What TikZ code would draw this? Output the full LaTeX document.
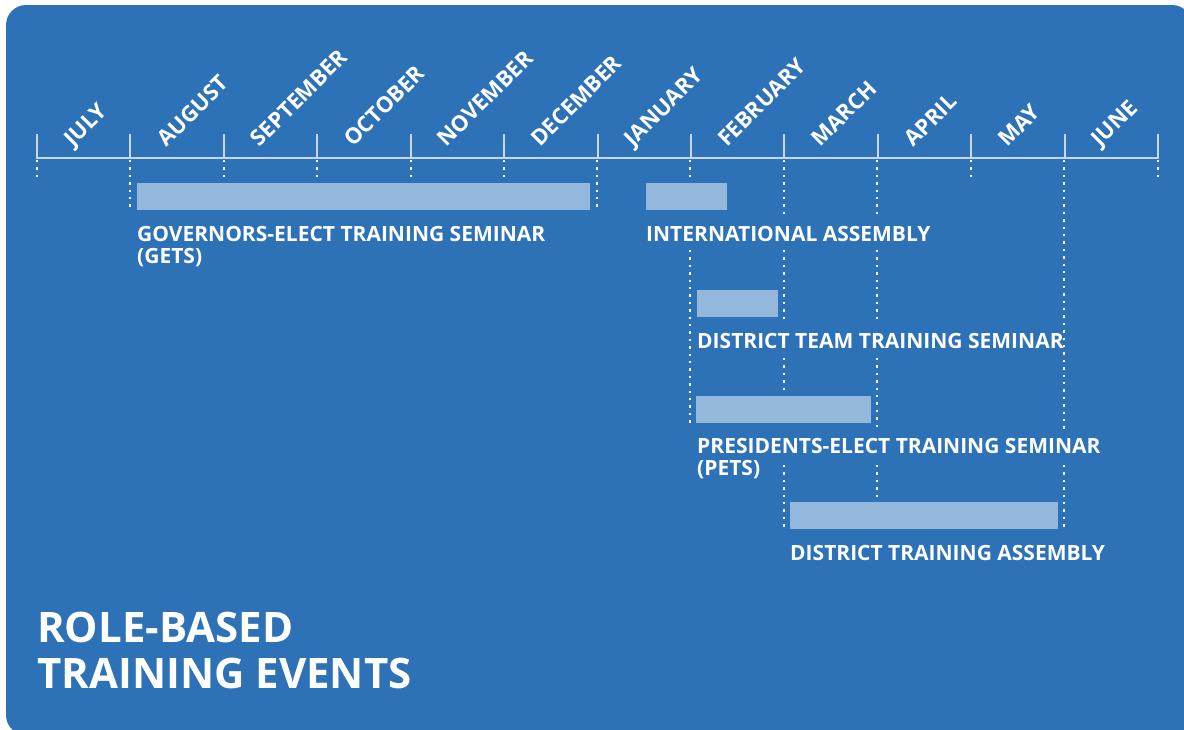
\documentclass[tikz,border=0pt]{standalone}
\usepackage{fontspec}
\setmainfont{Open Sans}
\usetikzlibrary{positioning}
\definecolor{rotblue}{HTML}{2D71B7}
\definecolor{barblue}{HTML}{94B8DC}
\definecolor{axisgray}{HTML}{C8D7EB}
\newcommand{\dotrun}[3]{\draw[dotline] (#1,#2) -- (#1,#3);}
\tikzset{
    month/.style={rotate=45,anchor=base west,inner sep=0pt,text=white,
        font=\bfseries\fontsize{22}{24}\selectfont},
    bar/.style={fill=barblue,anchor=north west,minimum height=27pt,
        inner sep=0pt,outer sep=0pt},
    event/.style={text=white,align=left,inner sep=0pt,
        font=\bfseries\fontsize{21}{22}\selectfont},
    headline/.style={text=white,align=left,inner sep=0pt,anchor=north west,
        font=\bfseries\fontsize{42}{46}\selectfont},
    axis/.style={draw=axisgray,line width=2pt},
    dotline/.style={white,line width=2.4pt,dash pattern=on 2.4pt off 5pt}}

\begin{document}
\begin{tikzpicture}[x=1pt,y=-1pt]
\useasboundingbox (0,0) rectangle (1184,729);
\fill[rotblue,rounded corners=20pt] (6,5) rectangle (1192,735);

% month axis
\draw[axis] (36,158) -- (1159,158);
\foreach \i in {0,...,12}
    \draw[axis] (37+93.42*\i,158) -- ++(0,-24);
\foreach \m [count=\i from 0] in {JULY,AUGUST,SEPTEMBER,OCTOBER,NOVEMBER,DECEMBER,JANUARY,FEBRUARY,MARCH,APRIL,MAY,JUNE}
    \node[month] (m\i) at (37+93.42*\i+36,148) {\m};

% dotted guides
\foreach \x in {37,224,317,411,504,971,1158}
    {\dotrun{\x}{160}{178}}
\dotrun{130}{160}{210}
\dotrun{597}{160}{210}
\dotrun{690}{160}{178}
\dotrun{690}{250}{423}
\dotrun{784}{160}{215}
\dotrun{784}{250}{322}
\dotrun{784}{358}{392}
\dotrun{784}{465}{528}
\dotrun{877}{160}{215}
\dotrun{877}{250}{322}
\dotrun{877}{358}{430}
\dotrun{877}{465}{497}
\dotrun{1064}{160}{430}
\dotrun{1064}{465}{528}

% bars
\node[bar,minimum width=453pt] (gets) at (137,183) {};
\node[bar,minimum width=81pt]  (ia)   at (646,183) {};
\node[bar,minimum width=81pt]  (dtts) at (697,290) {};
\node[bar,minimum width=175pt] (pets) at (696,396) {};
\node[bar,minimum width=268pt] (dta)  at (790,502) {};

% labels
\node[event,below right=16pt and 0pt of gets.south west] (getslabel) {GOVERNORS-ELECT TRAINING SEMINAR\\(GETS)};
\node[event,below right=16pt and 0pt of ia.south west]   (ialabel)   {INTERNATIONAL ASSEMBLY};
\node[event,below right=16pt and 0pt of dtts.south west] (dttslabel) {DISTRICT TEAM TRAINING SEMINAR};
\node[event,below right=15pt and 1pt of pets.south west] (petslabel) {PRESIDENTS-ELECT TRAINING SEMINAR\\(PETS)};
\node[event,below right=16pt and 0pt of dta.south west]  (dtalabel)  {DISTRICT TRAINING ASSEMBLY};

\node[headline] (title) at (37,612) {ROLE-BASED\\TRAINING EVENTS};
\end{tikzpicture}
\end{document}
